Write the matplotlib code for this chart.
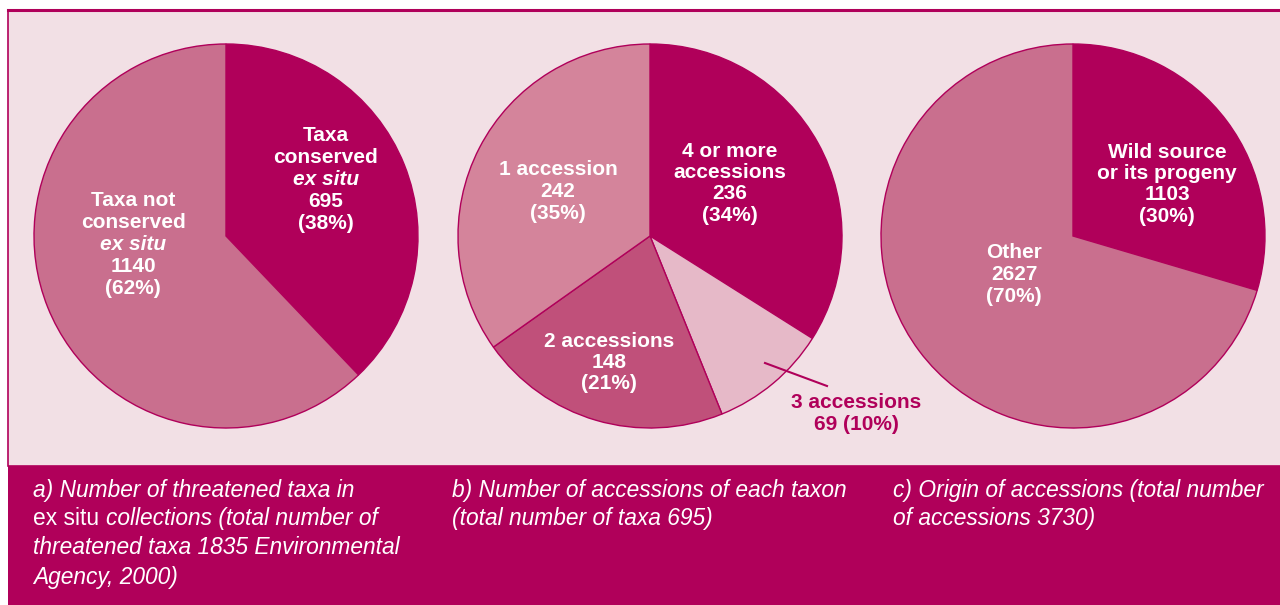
import matplotlib.pyplot as plt
from matplotlib.patches import Rectangle

# data
a_labels = ["Taxa conserved ex situ", "Taxa not conserved ex situ"]
a_values = [695, 1140]
b_labels = ["4 or more accessions", "3 accessions", "2 accessions", "1 accession"]
b_values = [236, 69, 148, 242]
c_labels = ["Wild source or its progeny", "Other"]
c_values = [1103, 2627]

DARK = "#b0005a"
BG = "#f2e0e5"
a_colors = [DARK, "#c96f8e"]
b_colors = [DARK, "#e6b9c8", "#c0507a", "#d4849b"]
c_colors = [DARK, "#c96f8e"]

W, H = 1280, 605
plt.rcParams['font.family'] = ['Liberation Sans', 'DejaVu Sans']

fig = plt.figure(figsize=(W / 100, H / 100), dpi=100)
ax = fig.add_axes([0, 0, 1, 1])


def Y(y):
    # pixel row from top -> data y
    return H - y


# panel and caption band
ax.add_patch(Rectangle((8, Y(466)), W + 20, 466 - 10, facecolor=BG,
                       edgecolor=DARK, linewidth=1.2, zorder=0))
ax.plot([8, W], [Y(10), Y(10)], color=DARK, lw=2.2, zorder=1)
ax.add_patch(Rectangle((8, 0), W - 8, H - 466, facecolor=DARK,
                       edgecolor='none', zorder=1))

R = 192
pies = [((226, 236), a_values, a_colors),
        ((650, 236), b_values, b_colors),
        ((1073, 236), c_values, c_colors)]
for (cx, cy), vals, cols in pies:
    ax.pie(vals, colors=cols, startangle=90, counterclock=False,
           center=(cx, Y(cy)), radius=R, frame=True,
           wedgeprops=dict(edgecolor=DARK, linewidth=1.0))
ax.set_xlim(0, W)
ax.set_ylim(0, H)
ax.set_aspect('auto')
ax.axis('off')


def pct(v, vals):
    return "(%d%%)" % round(100 * v / sum(vals))


def block(x, ys, lines, color='white', size=15):
    # ys are visual line centres; text is placed on its baseline
    for y, (txt, it) in zip(ys, lines):
        ax.text(x, Y(y + 7), txt, ha='center', va='baseline', color=color,
                fontsize=size, fontweight='bold',
                fontstyle='italic' if it else 'normal', zorder=5)


# pie a
block(326, [134, 156, 178, 200, 222],
      [("Taxa", 0), ("conserved", 0), ("ex situ", 1),
       (str(a_values[0]), 0), (pct(a_values[0], a_values), 0)])
block(133, [199, 221, 243, 265, 287],
      [("Taxa not", 0), ("conserved", 0), ("ex situ", 1),
       (str(a_values[1]), 0), (pct(a_values[1], a_values), 0)])

# pie b
block(730, [150, 171, 192, 214],
      [("4 or more", 0), ("accessions", 0),
       (str(b_values[0]), 0), (pct(b_values[0], b_values), 0)])
block(558, [168, 190, 212],
      [(b_labels[3], 0), (str(b_values[3]), 0), (pct(b_values[3], b_values), 0)])
block(609, [340, 361, 382],
      [(b_labels[2], 0), (str(b_values[2]), 0), (pct(b_values[2], b_values), 0)])
block(856, [401, 423],
      [(b_labels[1], 0), ("%d %s" % (b_values[1], pct(b_values[1], b_values)), 0)],
      color=DARK)
ax.plot([765, 827], [Y(363), Y(386)], color=DARK, lw=1.5, zorder=5)

# pie c
block(1167, [151, 172, 193, 215],
      [("Wild source", 0), ("or its progeny", 0),
       (str(c_values[0]), 0), (pct(c_values[0], c_values), 0)])
block(1014, [251, 273, 295],
      [(c_labels[1], 0), (str(c_values[1]), 0), (pct(c_values[1], c_values), 0)])

# captions (baselines)
cap = dict(color='white', fontsize=16.4, va='baseline', ha='left', zorder=5)
ax.text(33, Y(497), "a) Number of threatened taxa in", style='italic', **cap)
t = ax.text(33, Y(525), "ex situ ", **cap)
fig.canvas.draw()
bb = t.get_window_extent().transformed(ax.transData.inverted())
ax.text(bb.x1, Y(525), "collections (total number of", style='italic', **cap)
ax.text(33, Y(554), "threatened taxa 1835 Environmental", style='italic', **cap)
ax.text(33, Y(584), "Agency, 2000)", style='italic', **cap)

ax.text(452, Y(497), "b) Number of accessions of each taxon", style='italic', **cap)
ax.text(452, Y(525), "(total number of taxa 695)", style='italic', **cap)

ax.text(893, Y(497), "c) Origin of accessions (total number", style='italic', **cap)
ax.text(893, Y(525), "of accessions 3730)", style='italic', **cap)

fig.savefig("out.png", dpi=100, facecolor='white')
